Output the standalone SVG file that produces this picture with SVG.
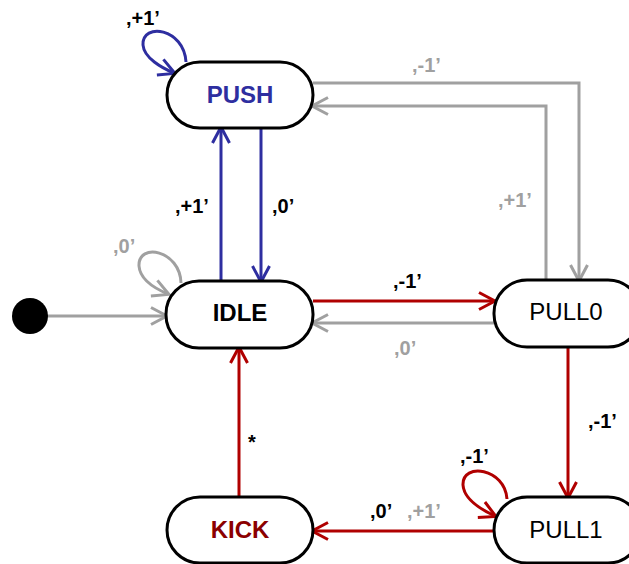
<svg xmlns="http://www.w3.org/2000/svg" width="629" height="564" viewBox="0 0 629 564">
<style>
.node rect{fill:#fff;stroke:#000;stroke-width:3}
.nt{font-family:"Liberation Sans",Arial,sans-serif;font-size:24px;text-anchor:middle}
.b{font-weight:bold}
.lbl{font-family:"Liberation Sans",Arial,sans-serif;font-size:20px;font-weight:bold}
.k{fill:#000}
.g{fill:#a0a0a0}
.cb{fill:none;stroke:#2e2ea0;stroke-width:3}
.cr{fill:none;stroke:#b00000;stroke-width:3}
.cg{fill:none;stroke:#a0a0a0;stroke-width:3}
</style>
<defs>
<marker id="ab" markerUnits="userSpaceOnUse" viewBox="-20 -12 24 24" markerWidth="24" markerHeight="24" refX="-1" refY="0" orient="auto"><path d="M-16,-8.5 L0,0 L-16,8.5" fill="none" stroke="#2e2ea0" stroke-width="3"/></marker>
<marker id="ar" markerUnits="userSpaceOnUse" viewBox="-20 -12 24 24" markerWidth="24" markerHeight="24" refX="-1" refY="0" orient="auto"><path d="M-16,-8.5 L0,0 L-16,8.5" fill="none" stroke="#b00000" stroke-width="3"/></marker>
<marker id="ag" markerUnits="userSpaceOnUse" viewBox="-20 -12 24 24" markerWidth="24" markerHeight="24" refX="-1" refY="0" orient="auto"><path d="M-16,-8.5 L0,0 L-16,8.5" fill="none" stroke="#a0a0a0" stroke-width="3"/></marker>
</defs>
<g id="connectors">
<line class="cg" x1="46" y1="316" x2="166" y2="316" stroke-width="2" marker-end="url(#ag)"/>
<path class="cg" d="M181,283 C180,250 138,242 139,266 C140,280 156,289 168,294" marker-end="url(#ag)"/>
<path class="cb" d="M186,62 C184,28 142,22 143,45 C144,58 162,68 174,73" marker-end="url(#ab)"/>
<line class="cb" x1="221" y1="281" x2="221" y2="128" marker-end="url(#ab)"/>
<line class="cb" x1="261" y1="128" x2="261" y2="281" marker-end="url(#ab)"/>
<line class="cr" x1="313" y1="301" x2="494" y2="301" marker-end="url(#ar)"/>
<line class="cg" x1="494" y1="323" x2="313" y2="323" marker-end="url(#ag)"/>
<path class="cg" d="M313,83 L579,83 L579,280" marker-end="url(#ag)"/>
<path class="cg" d="M546,280 L546,106 L313,106" marker-end="url(#ag)"/>
<line class="cr" x1="568" y1="347" x2="568" y2="497" marker-end="url(#ar)"/>
<path class="cr" d="M507,499 C505,468 462,462 463,485 C464,500 482,510 495,516" marker-end="url(#ar)"/>
<line class="cr" x1="494" y1="531" x2="313" y2="531" marker-end="url(#ar)"/>
<line class="cr" x1="239" y1="497" x2="239" y2="348" marker-end="url(#ar)"/>
</g>
<g id="labels">
<text class="lbl k" x="126" y="25">,+1’</text>
<text class="lbl g" x="113" y="253">,0’</text>
<text class="lbl k" x="175" y="213">,+1’</text>
<text class="lbl k" x="272" y="213">,0’</text>
<text class="lbl k" x="393" y="288">,-1’</text>
<text class="lbl g" x="394" y="355">,0’</text>
<text class="lbl g" x="412" y="72">,-1’</text>
<text class="lbl g" x="498" y="207">,+1’</text>
<text class="lbl k" x="588" y="428">,-1’</text>
<text class="lbl k" x="460" y="463">,-1’</text>
<text class="lbl k" x="370" y="518">,0’</text>
<text class="lbl g" x="407" y="518">,+1’</text>
<text class="lbl k" x="248" y="449" font-size="18">*</text>
</g>
<g id="start"><circle cx="30" cy="316" r="18" fill="#000"/></g>
<g id="PUSH" class="node"><rect x="167" y="62" width="146" height="66" rx="33"/><text class="nt b" x="240" y="103" fill="#2e2ea0">PUSH</text></g>
<g id="IDLE" class="node"><rect x="166" y="281" width="147" height="67" rx="33"/><text class="nt b" x="240" y="321">IDLE</text></g>
<g id="PULL0" class="node"><rect x="494" y="280" width="147" height="67" rx="33"/><text class="nt" x="566" y="320">PULL0</text></g>
<g id="PULL1" class="node"><rect x="494" y="497" width="147" height="66" rx="33"/><text class="nt" x="566" y="538">PULL1</text></g>
<g id="KICK" class="node"><rect x="167" y="497" width="146" height="66" rx="33"/><text class="nt b" x="240" y="538" fill="#8b0000">KICK</text></g>
</svg>
